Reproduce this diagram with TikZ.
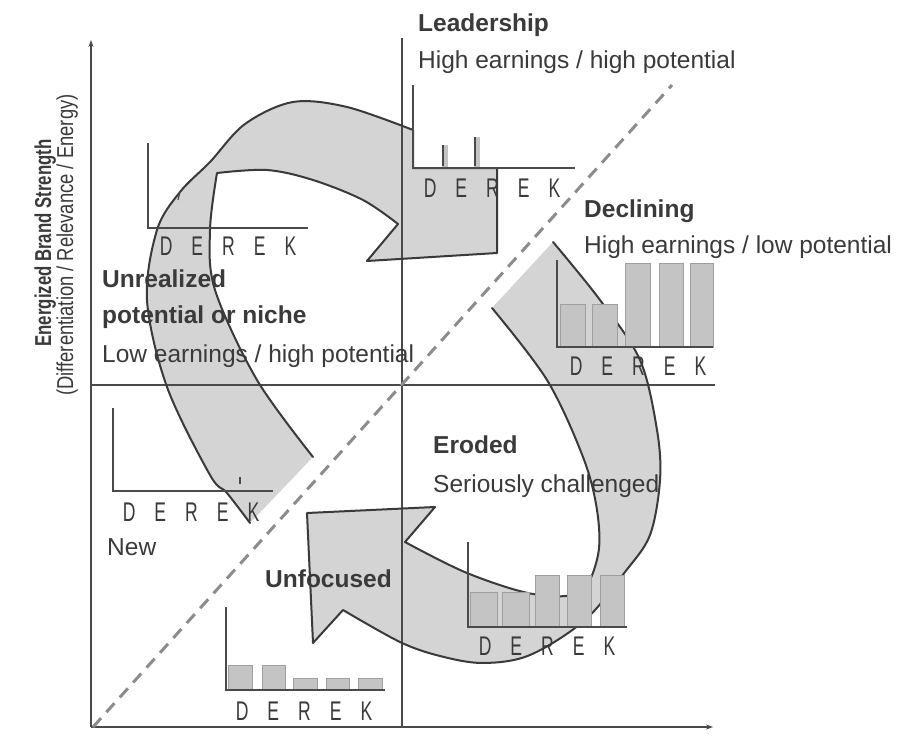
\documentclass[tikz,border=0pt]{standalone}
\usepackage{fontspec}
\setmainfont{Liberation Sans}
\newfontfamily\condfont{Liberation Sans}[FakeStretch=0.65]
\newfontfamily\ylabfont{Liberation Sans}[FakeStretch=0.73]
\newfontfamily\ylabfontb{Liberation Sans}[FakeStretch=0.8]
\usetikzlibrary{arrows.meta}
\definecolor{txt}{HTML}{3A3A3A}
\definecolor{ln}{HTML}{4A4A4A}
\definecolor{arrowfill}{HTML}{D4D4D4}
\definecolor{barfill}{HTML}{C4C4C4}
\definecolor{dashc}{HTML}{8C8C8C}
\newcommand{\derek}{D\hspace{19pt}E\hspace{19pt}R\hspace{19pt}E\hspace{19pt}K}
\begin{document}
\begin{tikzpicture}[x=1pt,y=-1pt,
  lbl/.style={anchor=base west, inner sep=0pt, text=txt, font=\fontsize{24.5}{29}\selectfont},
  lblb/.style={anchor=base west, inner sep=0pt, text=txt, font=\fontsize{24.5}{29}\selectfont\bfseries},
  dk/.style={anchor=base, inner sep=0pt, text=txt, font=\condfont\fontsize{27}{30}\selectfont},
  axisline/.style={draw=ln, line width=1.4pt},
  chartax/.style={draw=ln, line width=1.2pt},
  bar/.style={fill=barfill, draw=gray!75, line width=0.8pt},
  arrowedge/.style={draw=txt, line width=2pt, line join=round, line cap=round},
  stub/.style={draw=ln, line width=1.2pt},
]
\fill[white] (0,0) rectangle (897,736);
\useasboundingbox (0,0) rectangle (897,736);

% ---- big curved arrows (fills) ----
\fill[arrowfill] plot[smooth, tension=0.55] coordinates {(250,523) (227,493) (210,475) (167,387) (147,300) (157,230) (180,192) (210,162) (245,124) (293,102) (347,107) (413,130)}
  -- (413,168) -- (497,168) -- (497,253) -- (367,261) -- (398,224)
  -- plot[smooth, tension=0.55] coordinates {(398,224) (363,200) (313,180) (267,170) (217,173)}
  -- plot[smooth, tension=0.55] coordinates {(217,173) (210,230) (215,290) (257,380) (313,457)} -- cycle;

\fill[arrowfill] (492,308)
  -- plot[smooth, tension=0.55] coordinates {(553,242) (600,300) (640,360) (657,430) (660,480) (650,535) (625,572) (585,620) (530,655) (483,663) (440,656) (400,642) (343,610)}
  -- (313,643) -- (307,513) -- (435,507) -- (405,542)
  -- plot[smooth, tension=0.55] coordinates {(405,542) (467,573) (533,594) (580,592) (598,555) (597,510) (583,457) (547,380) (492,308)} -- cycle;

% ---- axes and quadrant lines ----
\coordinate (O) at (91,727);
\coordinate (ytop) at (91,40);
\coordinate (xend) at (713,727);
\coordinate (vtop) at (402,38);
\coordinate (vbot) at (402,727);
\coordinate (hl) at (91,385);
\coordinate (hr) at (715,385);
\coordinate (dA) at (93,727);
\coordinate (dB) at (672,85);
\draw[axisline, -{Stealth[length=7pt,width=5pt]}] (O) -- (ytop);
\draw[axisline, -{Stealth[length=7pt,width=5pt]}] (O) -- (xend);
\draw[axisline] (vtop) -- (vbot);
\draw[axisline] (hl) -- (hr);
\draw[dashc, line width=3pt, dash pattern=on 12pt off 8pt] (dA) -- (dB);

% ---- arrow outlines ----
\draw[arrowedge] plot[smooth, tension=0.55] coordinates {(250,523) (227,493) (210,475) (167,387) (147,300) (157,230) (180,192) (210,162) (245,124) (293,102) (347,107) (413,130)}
  -- (413,168) -- (497,168) -- (497,253) -- (367,261) -- (398,224)
  -- plot[smooth, tension=0.55] coordinates {(398,224) (363,200) (313,180) (267,170) (217,173)}
  -- plot[smooth, tension=0.55] coordinates {(217,173) (210,230) (215,290) (257,380) (313,457)};

\draw[arrowedge] plot[smooth, tension=0.55] coordinates {(553,242) (600,300) (640,360) (657,430) (660,480) (650,535) (625,572) (585,620) (530,655) (483,663) (440,656) (400,642) (343,610)}
  -- (313,643) -- (307,513) -- (435,507) -- (405,542)
  -- plot[smooth, tension=0.55] coordinates {(405,542) (467,573) (533,594) (580,592) (598,555) (597,510) (583,457) (547,380) (492,308)};

% ---- chart A: Leadership ----
\fill[barfill] (442,145) rectangle (448,168);
\fill[barfill] (474,137) rectangle (480,168);
\draw[stub] (443,145) -- (443,166);
\draw[stub] (475,137) -- (475,166);
\draw[chartax] (413,85) -- (413,168) -- (575,168);
\node[dk] (derekA) at (492,197) {\derek};

% ---- chart B: Unrealized ----
\draw[chartax] (148,143) -- (148,228) -- (308,228);
\draw[stub] (180,192) -- (178,200);
\node[dk] (derekB) at (228,255) {\derek};

% ---- chart C: New ----
\draw[chartax] (113,408) -- (113,491) -- (273,491);
\draw[stub] (240,477) -- (240,484);
\node[dk] (derekC) at (191,521) {\derek};

% ---- chart D: Declining ----
\draw[bar] (560,304) rectangle (585,347);
\draw[bar] (592,304) rectangle (617,347);
\draw[bar] (625,263) rectangle (650,347);
\draw[bar] (659,263) rectangle (683,347);
\draw[bar] (690,263) rectangle (713,347);
\draw[chartax] (557,260) -- (557,347) -- (713,347);
\node[dk] (derekD) at (638,375) {\derek};

% ---- chart E: Eroded ----
\draw[bar] (470,592) rectangle (497,627);
\draw[bar] (502,592) rectangle (529,627);
\draw[bar] (535,575) rectangle (559,627);
\draw[bar] (567,575) rectangle (591,627);
\draw[bar] (600,575) rectangle (624,627);
\draw[chartax] (468,542) -- (468,627) -- (627,627);
\node[dk] (derekE) at (547,655) {\derek};

% ---- chart F: Unfocused ----
\draw[bar] (228,665) rectangle (252,690);
\draw[bar] (262,665) rectangle (285,690);
\draw[bar] (293,678) rectangle (317,690);
\draw[bar] (326,678) rectangle (349,690);
\draw[bar] (358,678) rectangle (382,690);
\draw[chartax] (226,607) -- (226,690) -- (385,690);
\node[dk] (derekF) at (304,720) {\derek};

% ---- labels ----
\node[lblb] (lead) at (418,31) {Leadership};
\node[lbl] (leadsub) at (418,68) {High earnings / high potential};
\node[lblb] (decl) at (584,217) {Declining};
\node[lbl] (declsub) at (584,253) {High earnings / low potential};
\node[lblb] (unr1) at (102,287) {Unrealized};
\node[lblb] (unr2) at (102,323) {potential or niche};
\node[lbl] (unrsub) at (102,362) {Low earnings / high potential};
\node[lbl] (new) at (107,555) {New};
\node[lblb] (unf) at (265,587) {Unfocused};
\node[lblb] (ero) at (433,453) {Eroded};
\node[lbl] (erosub) at (433,492) {Seriously challenged};

\node[anchor=base, rotate=90, inner sep=0pt, text=txt, font=\ylabfont\fontsize{23}{26}\selectfont\bfseries] (ylab1) at (51,243) {Energized Brand Strength};
\node[anchor=base, rotate=90, inner sep=0pt, text=txt, font=\ylabfontb\fontsize{23}{26}\selectfont] (ylab2) at (73,245) {(Differentiation / Relevance / Energy)};
\end{tikzpicture}
\end{document}
